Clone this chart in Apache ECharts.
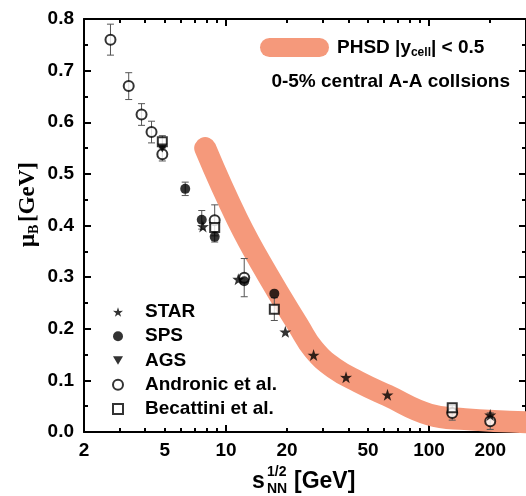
<!DOCTYPE html>
<html><head><meta charset="utf-8">
<script src="https://cdn.jsdelivr.net/npm/echarts@6/dist/echarts.min.js"></script>
<style>html,body{margin:0;padding:0;background:#fff}#c{width:526px;height:496px}</style>
</head><body><div id="c"></div>
<script>
// ---- data ----
const starX = [7.7, 11.5, 19.6, 27, 39, 62.4, 200];
const starY = [0.398, 0.296, 0.194, 0.149, 0.106, 0.072, 0.033];
const spsX = [6.3, 7.6, 8.8, 12.3, 17.3];
const spsY = [0.471, 0.411, 0.378, 0.292, 0.268];
const spsErr = [0.013, 0.018, 0.010, 0, 0];
const agsX = [4.86];
const agsY = [0.550];
const andX = [2.7, 3.32, 3.84, 4.3, 4.86, 8.8, 12.3, 130, 200];
const andY = [0.760, 0.670, 0.615, 0.581, 0.538, 0.410, 0.299, 0.037, 0.021];
const andErr = [0.030, 0.026, 0.021, 0.021, 0.013, 0.030, 0.037, 0.014, 0.016];
const becX = [4.86, 8.8, 17.3, 130];
const becY = [0.562, 0.396, 0.238, 0.047];
const becErr = [0.012, 0, 0.022, 0];
const phsdX = [7.9, 11.4, 16, 22.8, 27, 34, 45, 62, 100, 150, 300];
const phsdY = [0.550, 0.411, 0.305, 0.205, 0.160, 0.124, 0.097, 0.071, 0.034, 0.025, 0.019];
const xLabelTicks = [2, 5, 10, 20, 50, 100, 200];
const xMajorTicks = [10, 100];
const xMinorTicks = [3, 4, 5, 6, 7, 8, 9, 20, 30, 40, 50, 60, 70, 80, 90, 200];
const xMin = 2, xMax = 300;
const yMin = 0, yMax = 0.8, yStep = 0.1;

const FONT = '"Liberation Sans", Arial, sans-serif';
const SERIF = '"Liberation Serif", "Times New Roman", serif';
const BAND = '#F5997B';
const L = v => Math.log10(v);

const chart = echarts.init(document.getElementById('c'), null, {renderer: 'canvas'});

const starPath = 'path://M50,0 L61.8,35.1 L97.6,34.5 L69,56.2 L79.4,90.5 L50,70 L20.6,90.5 L31,56.2 L2.4,34.5 L38.2,35.1 Z';
const triDown = 'path://M0,0 L10,0 L5,8.66 Z';
const pill = 'path://M9.5,0 L59.5,0 A9.5,9.5 0 0 1 59.5,19 L9.5,19 A9.5,9.5 0 0 1 9.5,0 Z';

function pairs(xs, ys) { return xs.map((x, i) => [x, ys[i]]); }
function errSeries(xs, ys, es) {
  const data = [];
  xs.forEach((x, i) => { if (es[i] > 0) data.push([x, ys[i] - es[i], ys[i] + es[i]]); });
  return {
    type: 'custom', xAxisIndex: 0, yAxisIndex: 0, z: 3, silent: true,
    data: data, encode: {x: 0, y: [1, 2]},
    renderItem: function (params, api) {
      const lo = api.coord([api.value(0), api.value(1)]);
      const hi = api.coord([api.value(0), api.value(2)]);
      const w = 3.5, st = {stroke: '#555', lineWidth: 1};
      return {type: 'group', children: [
        {type: 'line', shape: {x1: lo[0], y1: lo[1], x2: hi[0], y2: hi[1]}, style: st},
        {type: 'line', shape: {x1: lo[0] - w, y1: lo[1], x2: lo[0] + w, y2: lo[1]}, style: st},
        {type: 'line', shape: {x1: hi[0] - w, y1: hi[1], x2: hi[0] + w, y2: hi[1]}, style: st}
      ]};
    }
  };
}

const axLine = {show: true, lineStyle: {color: '#000', width: 2}};
function tickAxis(pos, vals, len, withLabels) {
  return {
    type: 'value', gridIndex: 0, position: pos, min: L(xMin), max: L(xMax),
    axisLine: {show: false},
    axisTick: {show: true, inside: true, length: len, customValues: vals.map(L), lineStyle: {color: '#000', width: 2}},
    axisLabel: withLabels ? {
      show: true, customValues: xLabelTicks.map(L), margin: 9,
      formatter: v => String(Math.round(Math.pow(10, v))),
      color: '#000', fontFamily: FONT, fontWeight: 'bold', fontSize: 19
    } : {show: false},
    splitLine: {show: false}
  };
}

const yCommon = {
  type: 'value', min: yMin, max: yMax, interval: yStep,
  axisLine: axLine,
  axisTick: {show: true, inside: true, length: 7, lineStyle: {color: '#000', width: 2}},
  minorTick: {show: true, splitNumber: 2, length: 4, lineStyle: {color: '#000', width: 2}},
  splitLine: {show: false}, minorSplitLine: {show: false}
};

const option = {
  animation: false,
  backgroundColor: '#fff',
  grid: {left: 84, right: -3, top: 19, bottom: 64, containLabel: false},
  xAxis: [
    {type: 'log', logBase: 10, min: xMin, max: xMax, position: 'bottom', axisLine: axLine,
     axisTick: {show: false}, axisLabel: {show: false}, splitLine: {show: false}, minorTick: {show: false}},
    tickAxis('bottom', xMajorTicks, 7, true),
    tickAxis('bottom', xMinorTicks, 4, false),
    Object.assign(tickAxis('top', xMajorTicks, 7, false), {axisLine: axLine}),
    tickAxis('top', xMinorTicks, 4, false)
  ],
  yAxis: [
    Object.assign({}, yCommon, {position: 'left',
      axisLabel: {show: true, margin: 10, formatter: v => v.toFixed(1), color: '#000',
        fontFamily: FONT, fontWeight: 'bold', fontSize: 19}}),
    Object.assign({}, yCommon, {position: 'right', axisLabel: {show: false}})
  ],
  legend: [
    {
      data: [{name: 'PHSD', icon: pill}], left: 260, top: 38, padding: 0,
      itemWidth: 69, itemHeight: 19, selectedMode: false,
      formatter: () => 'PHSD |y{sub|cell}| < 0.5',
      textStyle: {color: '#000', fontFamily: FONT, fontWeight: 'bold', fontSize: 19, padding: [0, 0, 0, 3],
        rich: {sub: {fontFamily: FONT, fontWeight: 'bold', fontSize: 12, color: '#000', padding: [11, 0, 0, 0]}}}
    },
    {
      data: ['STAR', 'SPS', 'AGS', 'Andronic et al.', 'Becattini et al.'],
      orient: 'vertical', left: 112, top: 300, padding: 0, itemGap: 0.25,
      itemWidth: 10, itemHeight: 10, selectedMode: false,
      textStyle: {color: '#000', fontFamily: FONT, fontWeight: 'bold', fontSize: 19, lineHeight: 24, padding: [0, 0, 0, 17]}
    }
  ],
  series: [
    {name: 'PHSD', type: 'line', xAxisIndex: 0, yAxisIndex: 0, z: 1, smooth: 0.45,
     symbol: 'none', color: BAND, silent: true,
     lineStyle: {color: BAND, width: 22, cap: 'round', join: 'round'},
     data: pairs(phsdX, phsdY)},
    errSeries(andX, andY, andErr),
    errSeries(spsX, spsY, spsErr),
    errSeries(becX, becY, becErr),
    {name: 'Andronic et al.', type: 'scatter', xAxisIndex: 0, yAxisIndex: 0, z: 4,
     symbol: 'emptyCircle', symbolSize: 10, itemStyle: {color: '#000', borderWidth: 1.3},
     data: pairs(andX, andY)},
    {name: 'Becattini et al.', type: 'scatter', xAxisIndex: 0, yAxisIndex: 0, z: 4,
     symbol: 'emptyRect', symbolSize: 9, itemStyle: {color: '#000', borderWidth: 1.3},
     data: pairs(becX, becY)},
    {name: 'AGS', type: 'scatter', xAxisIndex: 0, yAxisIndex: 0, z: 4,
     symbol: triDown, symbolSize: [10, 9], itemStyle: {color: '#000'},
     data: pairs(agsX, agsY)},
    {name: 'SPS', type: 'scatter', xAxisIndex: 0, yAxisIndex: 0, z: 4,
     symbol: 'circle', symbolSize: 10, itemStyle: {color: '#000'},
     data: pairs(spsX, spsY)},
    {name: 'STAR', type: 'scatter', xAxisIndex: 0, yAxisIndex: 0, z: 5,
     symbol: starPath, symbolSize: 12, itemStyle: {color: '#000'},
     data: pairs(starX, starY)}
  ],
  graphic: [
    {type: 'text', x: 510, y: 82, style: {text: '0-5% central A-A collsions', align: 'right', verticalAlign: 'middle',
      font: 'bold 19px ' + FONT, fill: '#000'}},
    {type: 'text', x: 252, y: 482, style: {text: 's', align: 'left', verticalAlign: 'middle', font: 'bold 23px ' + FONT, fill: '#000'}},
    {type: 'text', x: 267, y: 472, style: {text: '1/2', align: 'left', verticalAlign: 'middle', font: 'bold 14px ' + FONT, fill: '#000'}},
    {type: 'text', x: 267, y: 489, style: {text: 'NN', align: 'left', verticalAlign: 'middle', font: 'bold 14px ' + FONT, fill: '#000'}},
    {type: 'text', x: 294, y: 482, style: {text: '[GeV]', align: 'left', verticalAlign: 'middle', font: 'bold 23px ' + FONT, fill: '#000'}},
    {type: 'group', x: 28, y: 203, rotation: Math.PI / 2, children: [
      {type: 'text', x: -44, y: 0, style: {text: 'μ', align: 'left', verticalAlign: 'middle', font: 'bold 23px ' + SERIF, fill: '#000'}},
      {type: 'text', x: -31, y: 6, style: {text: 'B', align: 'left', verticalAlign: 'middle', font: 'bold 14px ' + SERIF, fill: '#000'}},
      {type: 'text', x: -19, y: 0, style: {text: '[GeV]', align: 'left', verticalAlign: 'middle', font: 'bold 23px ' + SERIF, fill: '#000'}}
    ]}
  ]
};
chart.setOption(option);
</script></body></html>
